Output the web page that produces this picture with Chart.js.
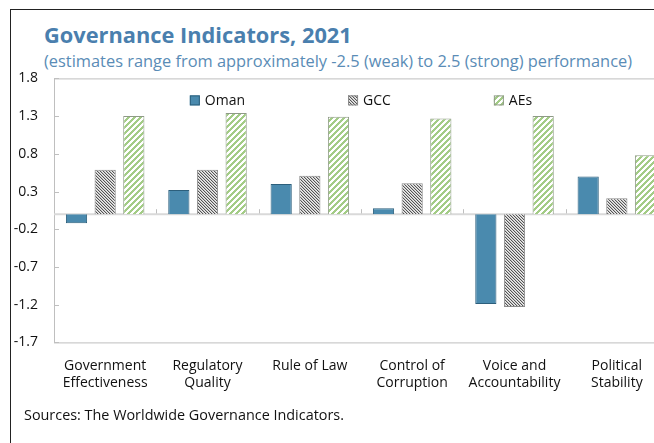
<!DOCTYPE html>
<html lang="en">
<head>
    <meta charset="UTF-8">
    <title>Governance Indicators, 2021</title>
    <script src="https://cdn.jsdelivr.net/npm/chart.js"></script>
    <style>
        html, body {
            margin: 0;
            width: 654px;
            height: 443px;
            overflow: hidden;
            background: #fff;
            font-family: 'Open Sans', 'Noto Sans', sans-serif;
        }
        .frame {
            position: absolute;
            left: 10px;
            top: 9px;
            width: 760px;
            height: 520px;
            border-left: 1.5px solid #222;
            border-top: 1.5px solid #222;
        }
        .title {
            position: absolute;
            left: 44px;
            top: 22px;
            margin: 0;
            font-size: 21.8px;
            font-weight: 700;
            line-height: 26px;
            color: #4a7fae;
        }
        .subtitle {
            position: absolute;
            left: 44px;
            top: 50px;
            font-size: 16.4px;
            line-height: 22px;
            color: #5a8cb6;
        }
        .chart-box {
            position: absolute;
            left: 10px;
            top: 54px;
            width: 658px;
            height: 352px;
        }
        .source {
            position: absolute;
            left: 24px;
            top: 405px;
            font-size: 14.4px;
            color: #111;
        }
    </style>
</head>
<body>
    <div class="frame"></div>
    <h1 class="title">Governance Indicators, 2021</h1>
    <div class="subtitle">(estimates range from approximately -2.5 (weak) to 2.5 (strong) performance)</div>
    <div class="chart-box">
        <canvas id="govChart"></canvas>
    </div>
    <div class="source">Sources: The Worldwide Governance Indicators.</div>

    <script>
        const categories = [
            ['Government', 'Effectiveness'],
            ['Regulatory', 'Quality'],
            'Rule of Law',
            ['Control of', 'Corruption'],
            ['Voice and', 'Accountability'],
            ['Political', 'Stability']
        ];
        const omanValues = [-0.12, 0.32, 0.40, 0.08, -1.19, 0.50];
        const gccValues = [0.59, 0.59, 0.51, 0.41, -1.23, 0.21];
        const aesValues = [1.30, 1.34, 1.29, 1.27, 1.30, 0.78];
        const yTicks = [-1.7, -1.2, -0.7, -0.2, 0.3, 0.8, 1.3, 1.8];

        // hatch fills for GCC and AEs
        function makePattern(size, paint) {
            const c = document.createElement('canvas');
            c.width = size;
            c.height = size;
            const g = c.getContext('2d');
            g.fillStyle = '#ffffff';
            g.fillRect(0, 0, size, size);
            for (let y = 0; y < size; y++) {
                for (let x = 0; x < size; x++) {
                    const col = paint(x, y);
                    if (col) {
                        g.fillStyle = col;
                        g.fillRect(x, y, 1, 1);
                    }
                }
            }
            return g.createPattern(c, 'repeat');
        }
        const gccShades = ['#555555', '#c4c4c4', '#ededed'];
        const gccFill = makePattern(3, (x, y) => gccShades[(x - y + 3) % 3]);
        const aesFill = makePattern(6, (x, y) => (x + y) % 6 < 3 ? '#a3cc86' : null);

        const fontFamily = "'Open Sans', 'Noto Sans', sans-serif";

        // box around the plot, zero line and small inward ticks
        const framePlugin = {
            id: 'frame',
            beforeDatasetsDraw(chart) {
                const { ctx, chartArea: a, scales } = chart;
                const y0 = scales.y.getPixelForValue(0);
                ctx.save();
                ctx.strokeStyle = '#bfbfbf';
                ctx.lineWidth = 1;
                ctx.strokeRect(a.left + 0.5, a.top + 0.5, a.right - a.left, a.bottom - a.top);
                ctx.beginPath();
                scales.y.ticks.forEach(t => {
                    const py = Math.round(scales.y.getPixelForValue(t.value)) + 0.5;
                    ctx.moveTo(a.left, py);
                    ctx.lineTo(a.left + 5, py);
                });
                const step = (a.right - a.left) / categories.length;
                for (let i = 1; i < categories.length; i++) {
                    const px = Math.round(a.left + i * step) + 0.5;
                    ctx.moveTo(px, y0);
                    ctx.lineTo(px, y0 - 5);
                }
                ctx.stroke();
                ctx.strokeStyle = '#d9d9d9';
                ctx.lineWidth = 2;
                ctx.beginPath();
                ctx.moveTo(a.left, y0);
                ctx.lineTo(a.right, y0);
                ctx.stroke();
                ctx.restore();
            }
        };

        // legend drawn inside the plot, spread across the top
        const innerLegend = {
            id: 'innerLegend',
            afterDraw(chart) {
                const { ctx, chartArea: a } = chart;
                const box = 10, gap = 103;
                ctx.save();
                ctx.font = '14px ' + fontFamily;
                ctx.textBaseline = 'middle';
                const items = chart.data.datasets.map(ds => ({
                    ds: ds,
                    w: box + 5 + ctx.measureText(ds.label).width
                }));
                const total = items.reduce((s, it) => s + it.w, 0) + gap * (items.length - 1);
                let x = (a.left + a.right) / 2 - total / 2;
                const y = a.top + 22;
                items.forEach(it => {
                    ctx.fillStyle = it.ds.backgroundColor;
                    ctx.fillRect(x, y - box / 2, box, box);
                    ctx.strokeStyle = it.ds.borderColor;
                    ctx.lineWidth = 1;
                    ctx.strokeRect(x + 0.5, y - box / 2 + 0.5, box - 1, box - 1);
                    ctx.fillStyle = '#111';
                    ctx.fillText(it.ds.label, x + box + 5, y + 1);
                    x += it.w + gap;
                });
                ctx.restore();
            }
        };

        const ctx = document.getElementById('govChart').getContext('2d');
        new Chart(ctx, {
            type: 'bar',
            data: {
                labels: categories,
                datasets: [{
                    label: 'Oman',
                    data: omanValues,
                    backgroundColor: '#4a8aae',
                    borderColor: '#2c5f7c',
                    borderWidth: 1
                }, {
                    label: 'GCC',
                    data: gccValues,
                    backgroundColor: gccFill,
                    borderColor: '#8c8c8c',
                    borderWidth: 1
                }, {
                    label: 'AEs',
                    data: aesValues,
                    backgroundColor: aesFill,
                    borderColor: '#8e9a86',
                    borderWidth: 1
                }]
            },
            options: {
                responsive: true,
                maintainAspectRatio: false,
                animation: false,
                categoryPercentage: 0.84,
                barPercentage: 0.74,
                layout: { padding: { top: 2, right: 0, left: 0, bottom: 0 } },
                scales: {
                    x: {
                        grid: { display: false, drawTicks: false },
                        border: { display: false },
                        ticks: {
                            color: '#111',
                            font: { family: fontFamily, size: 14 },
                            padding: 15,
                            maxRotation: 0,
                            autoSkip: false
                        }
                    },
                    y: {
                        min: -1.7,
                        max: 1.8,
                        afterBuildTicks(scale) {
                            scale.ticks = yTicks.map(v => ({ value: v }));
                        },
                        afterFit(scale) {
                            scale.width = 44;
                        },
                        grid: { display: false, drawTicks: false },
                        border: { display: false },
                        ticks: {
                            color: '#111',
                            font: { family: fontFamily, size: 14 },
                            padding: 16,
                            callback: v => Number(v).toFixed(1)
                        }
                    }
                },
                plugins: {
                    legend: { display: false },
                    tooltip: { enabled: false }
                }
            },
            plugins: [framePlugin, innerLegend]
        });
    </script>
</body>
</html>
